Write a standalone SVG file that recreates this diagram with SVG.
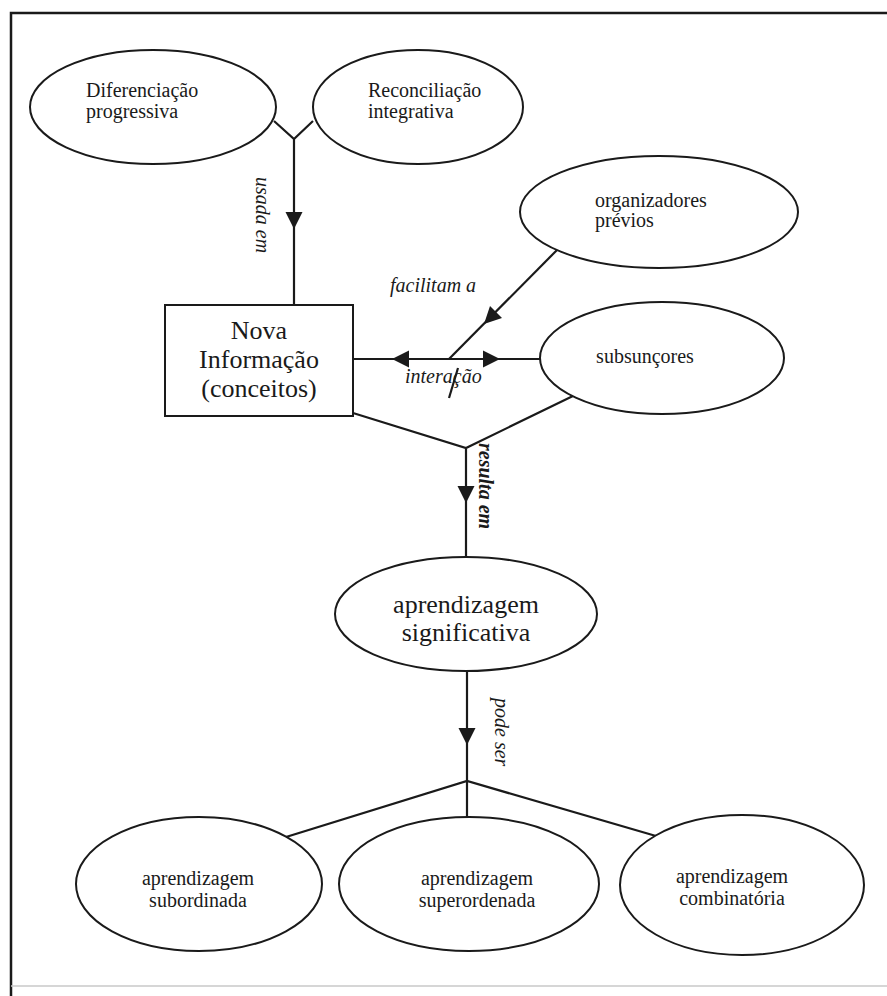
<svg xmlns="http://www.w3.org/2000/svg" xmlns:xlink="http://www.w3.org/1999/xlink" width="887" height="996" viewBox="0 0 887 996">
<style>
  .node { fill: #fff; stroke: #1a1a1a; stroke-width: 2; }
  .conn { fill: none; stroke: #1a1a1a; stroke-width: 2.2; }
  .ah { fill: #1a1a1a; stroke: none; }
  .t { font-family: "Liberation Serif", "Times New Roman", serif; fill: #1a1a1a; }
  .s { font-size: 20px; }
  .b { font-size: 26px; }
  .lbl { font-family: "Liberation Serif", "Times New Roman", serif; font-style: italic; font-size: 20px; fill: #1a1a1a; }
</style>
<defs>
  <path id="arrow" d="M0,0 L-17,-8.5 L-17,8.5 Z"/>
</defs>
<rect width="887" height="996" fill="#fff"/>
<g id="frame">
  <path d="M11,996 L11,13 L887,13" fill="none" stroke="#1a1a1a" stroke-width="2.5"/>
  <path d="M11,986 L887,986" fill="none" stroke="#c8c8c8" stroke-width="1.5"/>
</g>
<g id="connectors">
  <path class="conn" d="M274,121 L294,139 L313,121 M294,139 L294,305"/>
  <path class="conn" d="M353,359 L541,359"/>
  <path class="conn" d="M557,250 L449,359"/>
  <path class="conn" d="M458,368 L449,398"/>
  <path class="conn" d="M353,413 L466,448 L575,395 M466,448 L466,558"/>
  <path class="conn" d="M467,671 L467,781"/>
  <path class="conn" d="M286,837 L467,781 L656,836 M467,781 L467,817"/>
  <use xlink:href="#arrow" class="ah" transform="translate(294,229) rotate(90)"/>
  <use xlink:href="#arrow" class="ah" transform="translate(392,359) rotate(180)"/>
  <use xlink:href="#arrow" class="ah" transform="translate(500,359)"/>
  <use xlink:href="#arrow" class="ah" transform="translate(484,324) rotate(135)"/>
  <use xlink:href="#arrow" class="ah" transform="translate(466,503) rotate(90)"/>
  <use xlink:href="#arrow" class="ah" transform="translate(467,745) rotate(90)"/>
  <text class="lbl" transform="translate(256,177) rotate(90)">usada em</text>
  <text class="lbl" x="390" y="292">facilitam a</text>
  <text class="lbl" x="405" y="383">interação</text>
  <text class="lbl" font-weight="bold" font-size="22" transform="translate(479,443) rotate(90)">resulta em</text>
  <text class="lbl" font-size="21" transform="translate(495,698) rotate(90)">pode ser</text>
</g>
<g id="dif">
  <ellipse class="node" cx="153" cy="107" rx="123" ry="57"/>
  <text class="t s" x="86" y="97">Diferenciação</text>
  <text class="t s" x="86" y="118">progressiva</text>
</g>
<g id="rec">
  <ellipse class="node" cx="418" cy="107" rx="105" ry="57"/>
  <text class="t s" x="368" y="97">Reconciliação</text>
  <text class="t s" x="368" y="118">integrativa</text>
</g>
<g id="org">
  <ellipse class="node" cx="659" cy="212" rx="139" ry="56"/>
  <text class="t s" x="595" y="207">organizadores</text>
  <text class="t s" x="595" y="227">prévios</text>
</g>
<g id="nova">
  <rect class="node" x="165" y="305" width="188" height="111"/>
  <text class="t b" x="259" y="339" text-anchor="middle">Nova</text>
  <text class="t b" x="259" y="368" text-anchor="middle">Informação</text>
  <text class="t b" x="259" y="397" text-anchor="middle">(conceitos)</text>
</g>
<g id="sub">
  <ellipse class="node" cx="662" cy="358" rx="122" ry="56"/>
  <text class="t s" x="645" y="363" text-anchor="middle">subsunçores</text>
</g>
<g id="sig">
  <ellipse class="node" cx="466" cy="614" rx="131" ry="57"/>
  <text class="t b" x="466" y="613" text-anchor="middle">aprendizagem</text>
  <text class="t b" x="466" y="641" text-anchor="middle">significativa</text>
</g>
<g id="subord">
  <ellipse class="node" cx="199" cy="884" rx="123" ry="67"/>
  <text class="t s" x="198" y="885" text-anchor="middle">aprendizagem</text>
  <text class="t s" x="198" y="907" text-anchor="middle">subordinada</text>
</g>
<g id="super">
  <ellipse class="node" cx="469" cy="884" rx="130" ry="67"/>
  <text class="t s" x="477" y="885" text-anchor="middle">aprendizagem</text>
  <text class="t s" x="477" y="907" text-anchor="middle">superordenada</text>
</g>
<g id="comb">
  <ellipse class="node" cx="742" cy="885" rx="122" ry="70"/>
  <text class="t s" x="732" y="883" text-anchor="middle">aprendizagem</text>
  <text class="t s" x="732" y="905" text-anchor="middle">combinatória</text>
</g>
</svg>
